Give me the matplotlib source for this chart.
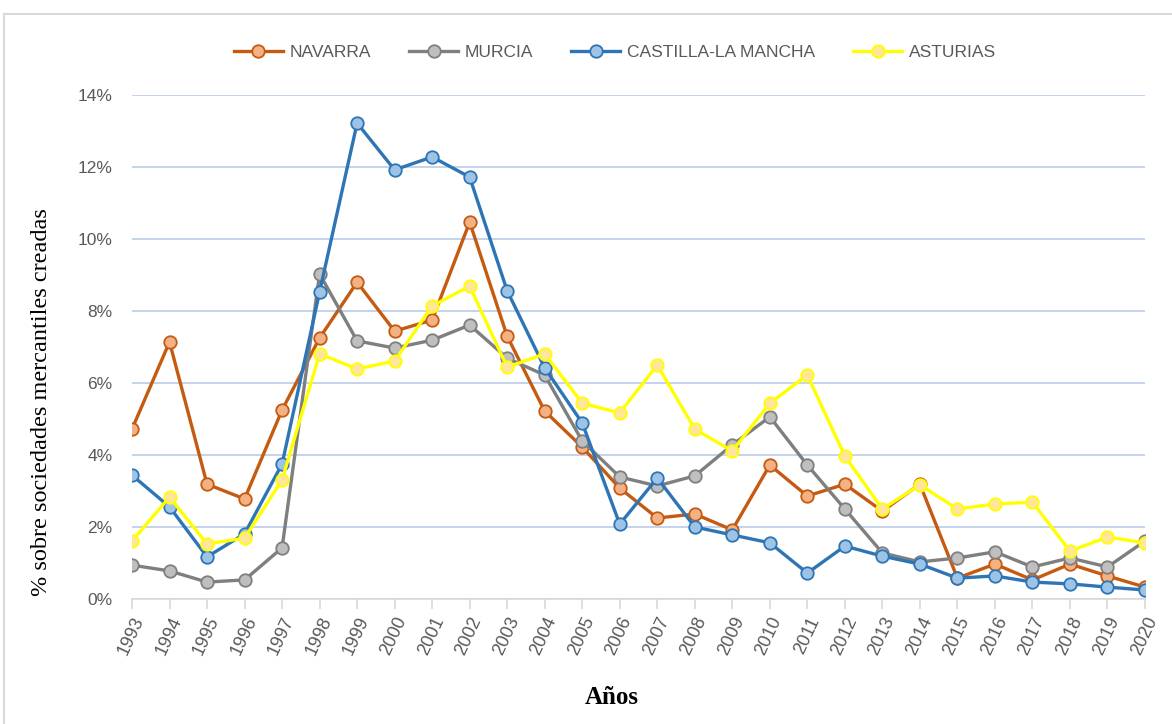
import matplotlib.pyplot as plt
from matplotlib.lines import Line2D
from matplotlib.ticker import FuncFormatter

# datos (% sobre sociedades mercantiles creadas)
anios = list(range(1993, 2021))

navarra = [4.72, 7.14, 3.19, 2.78, 5.25, 7.25, 8.80, 7.44, 7.75, 10.47,
           7.30, 5.22, 4.22, 3.08, 2.25, 2.36, 1.92, 3.72, 2.86, 3.19,
           2.44, 3.19, 0.58, 0.97, 0.53, 0.97, 0.64, 0.33]
murcia = [0.94, 0.78, 0.47, 0.53, 1.42, 9.03, 7.17, 6.97, 7.19, 7.61,
          6.69, 6.22, 4.39, 3.39, 3.14, 3.42, 4.28, 5.06, 3.72, 2.50,
          1.28, 1.03, 1.14, 1.31, 0.89, 1.14, 0.89, 1.61]
castilla = [3.44, 2.56, 1.17, 1.81, 3.75, 8.53, 13.22, 11.92, 12.28, 11.72,
            8.56, 6.42, 4.89, 2.08, 3.36, 2.00, 1.78, 1.56, 0.72, 1.47,
            1.19, 0.97, 0.58, 0.64, 0.47, 0.42, 0.33, 0.25]
asturias = [1.61, 2.83, 1.53, 1.69, 3.31, 6.81, 6.39, 6.61, 8.14, 8.69,
            6.44, 6.81, 5.44, 5.17, 6.50, 4.72, 4.11, 5.44, 6.22, 3.97,
            2.50, 3.17, 2.50, 2.64, 2.69, 1.33, 1.72, 1.56]

series = [
    ('NAVARRA', navarra, '#C55A11', '#F4B183'),
    ('MURCIA', murcia, '#7F7F7F', '#BFBFBF'),
    ('CASTILLA-LA MANCHA', castilla, '#2E75B6', '#9DC3E6'),
    ('ASTURIAS', asturias, '#FFFF00', '#FFE699'),
]

plt.rcParams['font.family'] = ['Liberation Sans', 'DejaVu Sans']

fig = plt.figure(figsize=(11.72, 7.24), dpi=100)
ax = fig.add_axes([132 / 1172, 1 - 599 / 724, (1145 - 132) / 1172, (599 - 95) / 724])

for nombre, vals, color, relleno in series:
    ax.plot(anios, vals, color=color, lw=2.4, marker='o', markersize=9,
            markerfacecolor=relleno, markeredgecolor=color, markeredgewidth=1.3,
            label=nombre, zorder=3)

ax.set_xlim(1993, 2020)
ax.set_ylim(0, 14)
ax.set_yticks(range(0, 15, 2))
ax.yaxis.set_major_formatter(FuncFormatter(lambda v, p: f'{v:.0f}%'))
ax.set_xticks(anios)
ax.set_xticklabels([str(a) for a in anios], rotation=65, ha='right',
                   rotation_mode='anchor', fontsize=13, color='#595959')
ax.tick_params(axis='y', length=0, labelsize=12.5, labelcolor='#595959', pad=14)
ax.tick_params(axis='x', length=7, color='#D9D9D9', width=1.2, pad=4)

ax.grid(axis='y', color='#B4C7E7', lw=1.1)
ax.set_axisbelow(True)
for s in ['top', 'right', 'left']:
    ax.spines[s].set_visible(False)
ax.spines['bottom'].set_color('#D9D9D9')
ax.spines['bottom'].set_linewidth(1.2)
ax.spines['bottom'].set_zorder(2)

fig.text(42 / 1172, 1 - 402 / 724, '% sobre sociedades mercantiles creadas',
         family='Liberation Serif', fontsize=17.5, rotation=90,
         ha='center', va='center')
fig.text(612 / 1172, 1 - 697 / 724, 'Años', family='Liberation Serif', fontsize=18,
         fontweight='bold', ha='center', va='center')

ax.legend(loc='center', bbox_to_anchor=(615 / 1172, 1 - 52 / 724),
          bbox_transform=fig.transFigure, ncol=4, frameon=False, fontsize=12.5,
          handlelength=2.8, columnspacing=2.2, handletextpad=0.4,
          labelcolor='#595959')

# marco exterior del gráfico
fig.add_artist(Line2D([4 / 1172, 1], [1 - 14 / 724, 1 - 14 / 724], color='#D9D9D9', lw=1.5))
fig.add_artist(Line2D([4 / 1172, 4 / 1172], [0, 1 - 14 / 724], color='#D9D9D9', lw=1.5))

fig.savefig('out.png', dpi=100)
